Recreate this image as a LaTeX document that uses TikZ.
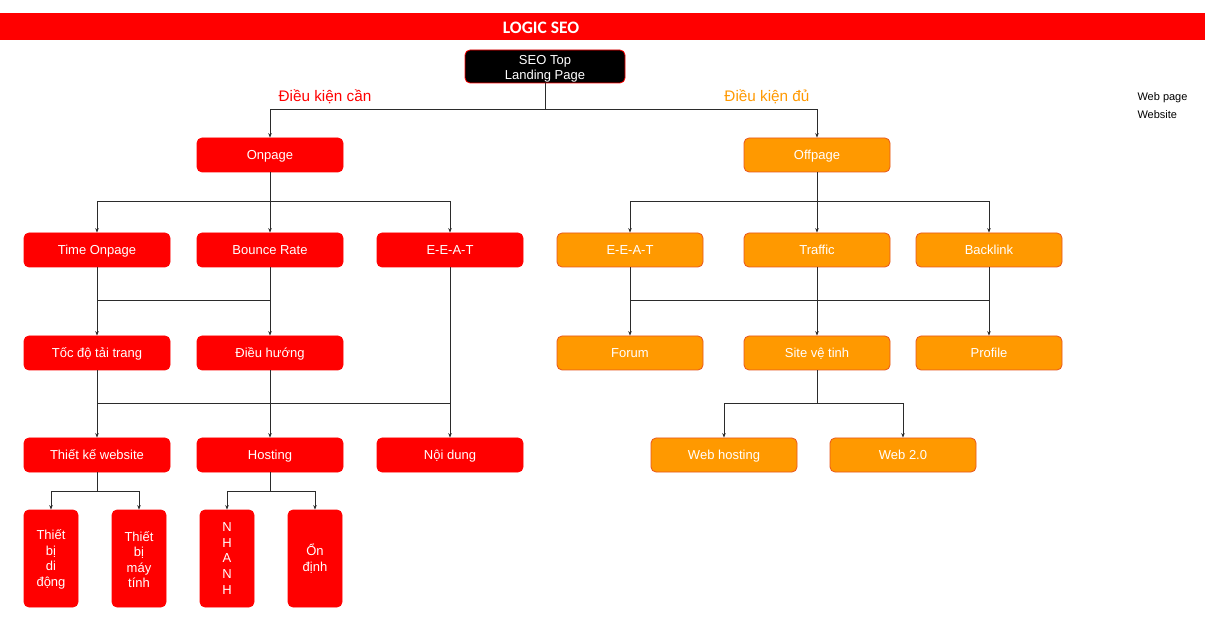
\documentclass[tikz,border=0pt]{standalone}
\usepackage{fontspec}
\setmainfont{Liberation Sans}
\newfontfamily\titlefont{Carlito}
\usetikzlibrary{arrows.meta}
\definecolor{rd}{HTML}{FF0000}
\definecolor{org}{HTML}{FF9900}
\definecolor{orgb}{HTML}{E8561E}
\definecolor{ln}{HTML}{2B2B2B}
\tikzset{
  basebox/.style={rounded corners=5pt, text=white, font=\fontsize{13}{15.6}\selectfont, inner sep=0pt, line width=0.8pt},
  box/.style={basebox, minimum width=146pt, minimum height=34pt, text height=9.4pt, text depth=0pt},
  redbox/.style={box, fill=rd, draw=rd},
  orbox/.style={box, fill=org, draw=orgb},
  tallbox/.style={basebox, fill=rd, draw=rd, minimum width=54pt, minimum height=97pt, align=center},
  conn/.style={draw=ln, line width=1pt},
  arr/.style={conn, -{Stealth[length=4.5pt,width=3.5pt]}},
}
\begin{document}
\begin{tikzpicture}[x=1pt,y=-1pt]
\useasboundingbox[fill=white] (0,0) rectangle (1205,617);
% title bar
\fill[rd] (0,13) rectangle (1205,40);
\node[font=\titlefont\bfseries\fontsize{17.5}{19}\selectfont, text=white] (title) at (541,27.5) {LOGIC SEO};
% root
\node[basebox, fill=black, draw=rd, minimum width=160pt, minimum height=33pt, align=center, font=\fontsize{13}{15}\selectfont] (root) at (545,66.5) {\rule{0pt}{14.5pt}SEO Top\\Landing Page};
\node[text=rd, font=\fontsize{15.3}{17}\selectfont] (lcan) at (325,97) {Điều kiện cần};
\node[text=org, font=\fontsize{15.3}{17}\selectfont] (ldu) at (767,97) {Điều kiện đủ};
\node[font=\fontsize{11}{13}\selectfont, anchor=west] (wp) at (1134,98) {Web page};
\node[font=\fontsize{11}{13}\selectfont, anchor=west] (ws) at (1134,115) {Website};
% level 1
\node[redbox] (onp) at (270,155) {Onpage};
\node[orbox] (offp) at (817,155) {Offpage};
% level 2
\node[redbox] (tim) at (97,250) {Time Onpage};
\node[redbox] (bnc) at (270,250) {Bounce Rate};
\node[redbox] (eat) at (450,250) {E-E-A-T};
\node[orbox] (eat2) at (630,250) {E-E-A-T};
\node[orbox] (trf) at (817,250) {Traffic};
\node[orbox] (bkl) at (989,250) {Backlink};
% level 3
\node[redbox] (tod) at (97,353) {Tốc độ tải trang};
\node[redbox] (dh) at (270,353) {Điều hướng};
\node[orbox] (forum) at (630,353) {Forum};
\node[orbox] (site) at (817,353) {Site vệ tinh};
\node[orbox] (prof) at (989,353) {Profile};
% level 4
\node[redbox] (tk) at (97,455) {Thiết kế website};
\node[redbox] (hos) at (270,455) {Hosting};
\node[redbox] (nd) at (450,455) {Nội dung};
\node[orbox] (wh) at (724,455) {Web hosting};
\node[orbox] (w20) at (903,455) {Web 2.0};
% level 5
\node[tallbox] (b1) at (51,558.5) {\rule{0pt}{12pt}Thiết\\bị\\di\\động};
\node[tallbox] (b2) at (139,558.5) {\rule{0pt}{12pt}Thiết\\bị\\máy\\tính};
\node[tallbox] (b3) at (227,558.5) {N\\H\\A\\N\\H};
\node[tallbox] (b4) at (315,558.5) {Ổn\\định};
% helper rows
\coordinate (r1) at (0,110);
\coordinate (r2) at (0,202);
\coordinate (r3) at (0,301);
\coordinate (r4) at (0,404);
\coordinate (r5) at (0,491);
% connectors
\draw[arr] (root.south) -- (root.south |- r1) -| (onp.north);
\draw[arr] (root.south) -- (root.south |- r1) -| (offp.north);
\draw[arr] (onp.south) -- (onp.south |- r2) -| (tim.north);
\draw[arr] (onp.south) -- (bnc.north);
\draw[arr] (onp.south) -- (onp.south |- r2) -| (eat.north);
\draw[arr] (offp.south) -- (offp.south |- r2) -| (eat2.north);
\draw[arr] (offp.south) -- (trf.north);
\draw[arr] (offp.south) -- (offp.south |- r2) -| (bkl.north);
\draw[arr] (tim.south) -- (tod.north);
\draw[arr] (bnc.south) -- (dh.north);
\draw[conn] (tim.south |- r3) -- (bnc.south |- r3);
\draw[arr] (tod.south) -- (tk.north);
\draw[arr] (dh.south) -- (hos.north);
\draw[arr] (eat.south) -- (nd.north);
\draw[conn] (tod.south |- r4) -- (eat.south |- r4);
\draw[arr] (eat2.south) -- (forum.north);
\draw[arr] (trf.south) -- (site.north);
\draw[arr] (bkl.south) -- (prof.north);
\draw[conn] (eat2.south |- r3) -- (bkl.south |- r3);
\draw[arr] (site.south) -- (site.south |- r4) -| (wh.north);
\draw[arr] (site.south) -- (site.south |- r4) -| (w20.north);
\draw[arr] (tk.south) -- (tk.south |- r5) -| (b1.north);
\draw[arr] (tk.south) -- (tk.south |- r5) -| (b2.north);
\draw[arr] (hos.south) -- (hos.south |- r5) -| (b3.north);
\draw[arr] (hos.south) -- (hos.south |- r5) -| (b4.north);
\end{tikzpicture}
\end{document}
